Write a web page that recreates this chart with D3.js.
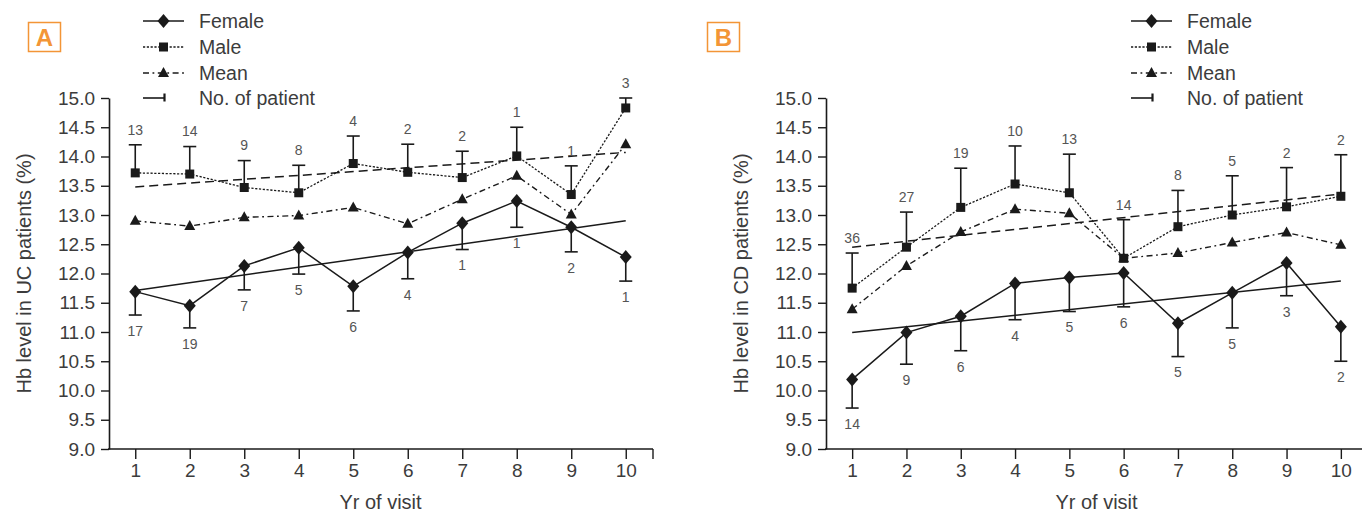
<!DOCTYPE html>
<html>
<head>
<meta charset="utf-8">
<script src="https://cdn.jsdelivr.net/npm/d3@7/dist/d3.min.js"></script>
<style>
  html, body { margin: 0; padding: 0; background: #fff; }
  svg { display: block; }
  text { font-family: "Liberation Sans", Arial, Helvetica, sans-serif; }
</style>
</head>
<body>
<svg id="chart" width="1362" height="513"></svg>
<script>
// ---------- DATA ----------
const years = [1, 2, 3, 4, 5, 6, 7, 8, 9, 10];
const yTicks = [9.0, 9.5, 10.0, 10.5, 11.0, 11.5, 12.0, 12.5, 13.0, 13.5, 14.0, 14.5, 15.0];
const legendLabels = ["Female", "Male", "Mean", "No. of patient"];

// Panel A: UC patients
const ucFemale     = [11.69, 11.45, 12.13, 12.44, 11.78, 12.36, 12.86, 13.24, 12.79, 12.28];
const ucFemaleLow  = [11.29, 11.07, 11.72, 11.99, 11.36, 11.91, 12.41, 12.79, 12.37, 11.87];
const ucFemaleN    = [17, 19, 7, 5, 6, 4, 1, 1, 2, 1];
const ucMale       = [13.72, 13.70, 13.47, 13.38, 13.88, 13.73, 13.64, 14.01, 13.35, 14.83];
const ucMaleHigh   = [14.20, 14.17, 13.93, 13.85, 14.35, 14.21, 14.09, 14.50, 13.84, 15.00];
const ucMaleN      = [13, 14, 9, 8, 4, 2, 2, 1, 1, 3];
const ucMean       = [12.90, 12.81, 12.96, 12.99, 13.13, 12.85, 13.27, 13.67, 13.01, 14.21];
const ucFemaleTrend = [11.71, 12.90];   // at year 1 and year 10
const ucMaleTrend   = [13.48, 14.07];

// Panel B: CD patients
const cdFemale     = [10.19, 10.99, 11.27, 11.83, 11.93, 12.01, 11.15, 11.67, 12.18, 11.09];
const cdFemaleLow  = [9.70, 10.45, 10.68, 11.21, 11.35, 11.43, 10.58, 11.07, 11.62, 10.50];
const cdFemaleN    = [14, 9, 6, 4, 5, 6, 5, 5, 3, 2];
const cdMale       = [11.75, 12.45, 13.13, 13.53, 13.38, 12.26, 12.80, 13.00, 13.14, 13.32];
const cdMaleHigh   = [12.35, 13.05, 13.80, 14.18, 14.04, 12.92, 13.42, 13.67, 13.81, 14.03];
const cdMaleN      = [36, 27, 19, 10, 13, 14, 8, 5, 2, 2];
const cdMean       = [11.39, 12.13, 12.71, 13.10, 13.03, 12.26, 12.35, 12.53, 12.70, 12.49];
const cdFemaleTrend = [10.99, 11.87];
const cdMaleTrend   = [12.45, 13.36];

// ---------- DRAWING ----------
const svg = d3.select("#chart");
const INK = "#1a1a1a";
const TXT = "#3c3c3c";
const ORANGE = "#f39536";

function diamondPath(cx, cy) {
  return `M${cx},${cy - 7}L${cx + 6},${cy}L${cx},${cy + 7}L${cx - 6},${cy}Z`;
}
function trianglePath(cx, cy) {
  return `M${cx},${cy - 6}L${cx + 5.5},${cy + 4}L${cx - 5.5},${cy + 4}Z`;
}

function drawPanel(cfg) {
  const g = svg.append("g");
  const x = d3.scaleLinear().domain([0.5, 10.5]).range([cfg.x0, cfg.x1]);
  const y = d3.scaleLinear().domain([9, 15]).range([449, 98]);

  // panel letter box
  g.append("rect")
    .attr("x", cfg.boxX).attr("y", 22.5).attr("width", 32).attr("height", 29)
    .attr("fill", "none").attr("stroke", ORANGE).attr("stroke-width", 1.5);
  g.append("text")
    .attr("x", cfg.boxX + 16).attr("y", 46)
    .attr("text-anchor", "middle").attr("fill", ORANGE).attr("font-weight", "bold")
    .attr("font-size", 24).text(cfg.letter);

  // y axis
  const yAxis = d3.axisLeft(y).tickValues(yTicks).tickFormat(d3.format(".1f"))
    .tickSize(8).tickSizeOuter(0).tickPadding(6);
  const ya = g.append("g").attr("transform", `translate(${cfg.x0 + 1},0)`).call(yAxis);
  ya.select(".domain").attr("stroke", INK).attr("stroke-width", 1.6);
  ya.selectAll(".tick line").attr("stroke", INK).attr("stroke-width", 1.4);
  ya.selectAll(".tick text").attr("fill", TXT).attr("font-size", 19)
    .attr("font-family", "'Liberation Sans', Arial, sans-serif");

  // x axis
  const xAxis = d3.axisBottom(x).tickValues(years).tickSize(10).tickSizeOuter(0).tickPadding(5);
  const xa = g.append("g").attr("transform", `translate(0,449)`).call(xAxis);
  xa.select(".domain").attr("stroke", INK).attr("stroke-width", 1.6)
    .attr("d", `M${cfg.x0},0H${cfg.x1}`);
  xa.selectAll(".tick line").attr("stroke", INK).attr("stroke-width", 1.4);
  xa.selectAll(".tick text").attr("fill", TXT).attr("font-size", 19)
    .attr("font-family", "'Liberation Sans', Arial, sans-serif");
  // right end tick
  xa.append("line").attr("x1", cfg.x1).attr("x2", cfg.x1).attr("y1", 0).attr("y2", 10)
    .attr("stroke", INK).attr("stroke-width", 1.4);

  // axis titles
  g.append("text")
    .attr("x", (x(1) + x(10)) / 2).attr("y", 509)
    .attr("text-anchor", "middle").attr("fill", TXT).attr("font-size", 20)
    .text("Yr of visit");
  g.append("text")
    .attr("transform", `translate(${cfg.titleX},${(y(9) + y(15)) / 2}) rotate(-90)`)
    .attr("text-anchor", "middle").attr("dy", "0.35em").attr("fill", TXT).attr("font-size", 20)
    .text(cfg.yTitle);

  // trend lines
  g.append("line")
    .attr("x1", x(1)).attr("y1", y(cfg.femaleTrend[0]))
    .attr("x2", x(10)).attr("y2", y(cfg.femaleTrend[1]))
    .attr("stroke", INK).attr("stroke-width", 1.5);
  g.append("line")
    .attr("x1", x(1)).attr("y1", y(cfg.maleTrend[0]))
    .attr("x2", x(10)).attr("y2", y(cfg.maleTrend[1]))
    .attr("stroke", INK).attr("stroke-width", 1.5).attr("stroke-dasharray", "9,5");

  const line = vals => d3.line().x((d, i) => x(years[i])).y(d => y(d))(vals);

  // series lines
  g.append("path").attr("d", line(cfg.female)).attr("fill", "none")
    .attr("stroke", INK).attr("stroke-width", 1.5);
  g.append("path").attr("d", line(cfg.male)).attr("fill", "none")
    .attr("stroke", INK).attr("stroke-width", 1.3).attr("stroke-dasharray", "2.2,1.6");
  g.append("path").attr("d", line(cfg.mean)).attr("fill", "none")
    .attr("stroke", INK).attr("stroke-width", 1.4).attr("stroke-dasharray", "6,3.5,1.8,3.5");

  // error bars
  const capW = 6.5;
  years.forEach((yr, i) => {
    const cx = x(yr);
    g.append("line").attr("x1", cx).attr("x2", cx)
      .attr("y1", y(cfg.female[i])).attr("y2", y(cfg.femaleLow[i]))
      .attr("stroke", INK).attr("stroke-width", 1.6);
    g.append("line").attr("x1", cx - capW).attr("x2", cx + capW)
      .attr("y1", y(cfg.femaleLow[i])).attr("y2", y(cfg.femaleLow[i]))
      .attr("stroke", INK).attr("stroke-width", 1.6);
    g.append("line").attr("x1", cx).attr("x2", cx)
      .attr("y1", y(cfg.male[i])).attr("y2", y(cfg.maleHigh[i]))
      .attr("stroke", INK).attr("stroke-width", 1.6);
    g.append("line").attr("x1", cx - capW).attr("x2", cx + capW)
      .attr("y1", y(cfg.maleHigh[i])).attr("y2", y(cfg.maleHigh[i]))
      .attr("stroke", INK).attr("stroke-width", 1.6);
  });

  // markers
  years.forEach((yr, i) => {
    const cx = x(yr);
    g.append("path").attr("d", diamondPath(cx, y(cfg.female[i]))).attr("fill", INK);
    g.append("rect").attr("x", cx - 4.5).attr("y", y(cfg.male[i]) - 4.5)
      .attr("width", 9).attr("height", 9).attr("fill", INK);
    g.append("path").attr("d", trianglePath(cx, y(cfg.mean[i]))).attr("fill", INK);
  });

  // patient counts
  years.forEach((yr, i) => {
    const cx = x(yr);
    g.append("text").attr("x", cx).attr("y", y(cfg.femaleLow[i]) + 16)
      .attr("dy", "0.35em").attr("text-anchor", "middle")
      .attr("fill", "#555").attr("font-size", 14).text(cfg.femaleN[i]);
    g.append("text").attr("x", cx).attr("y", y(cfg.maleHigh[i]) - 15)
      .attr("dy", "0.35em").attr("text-anchor", "middle")
      .attr("fill", "#555").attr("font-size", 14).text(cfg.maleN[i]);
  });

  // legend
  const lx0 = cfg.legendX, lx1 = cfg.legendX + 41, lm = cfg.legendX + 20.5;
  const rows = [21, 47, 73, 98];
  const lg = g.append("g");
  lg.append("line").attr("x1", lx0).attr("x2", lx1).attr("y1", rows[0]).attr("y2", rows[0])
    .attr("stroke", INK).attr("stroke-width", 1.5);
  lg.append("path").attr("d", diamondPath(lm, rows[0])).attr("fill", INK);
  lg.append("line").attr("x1", lx0).attr("x2", lx1).attr("y1", rows[1]).attr("y2", rows[1])
    .attr("stroke", INK).attr("stroke-width", 1.3).attr("stroke-dasharray", "2.2,1.6");
  lg.append("rect").attr("x", lm - 4.5).attr("y", rows[1] - 4.5).attr("width", 9).attr("height", 9).attr("fill", INK);
  lg.append("line").attr("x1", lx0).attr("x2", lx1).attr("y1", rows[2]).attr("y2", rows[2])
    .attr("stroke", INK).attr("stroke-width", 1.4).attr("stroke-dasharray", "6,3.5,1.8,3.5");
  lg.append("path").attr("d", trianglePath(lm, rows[2])).attr("fill", INK);
  lg.append("line").attr("x1", lx0).attr("x2", lm + 1).attr("y1", rows[3]).attr("y2", rows[3])
    .attr("stroke", INK).attr("stroke-width", 1.6);
  lg.append("line").attr("x1", lm + 1).attr("x2", lm + 1).attr("y1", rows[3] - 4.5).attr("y2", rows[3] + 3.5)
    .attr("stroke", INK).attr("stroke-width", 2.2);
  legendLabels.forEach((lab, i) => {
    lg.append("text").attr("x", lx0 + 56).attr("y", rows[i]).attr("dy", "0.35em")
      .attr("fill", TXT).attr("font-size", 19.5).text(lab);
  });
}

drawPanel({
  letter: "A", boxX: 28.5, x0: 108, x1: 653, titleX: 24, legendX: 143,
  yTitle: "Hb level in UC patients (%)",
  female: ucFemale, femaleLow: ucFemaleLow, femaleN: ucFemaleN,
  male: ucMale, maleHigh: ucMaleHigh, maleN: ucMaleN, mean: ucMean,
  femaleTrend: ucFemaleTrend, maleTrend: ucMaleTrend
});
drawPanel({
  letter: "B", boxX: 707.5, x0: 825, x1: 1368, titleX: 741, legendX: 1131,
  yTitle: "Hb level in CD patients (%)",
  female: cdFemale, femaleLow: cdFemaleLow, femaleN: cdFemaleN,
  male: cdMale, maleHigh: cdMaleHigh, maleN: cdMaleN, mean: cdMean,
  femaleTrend: cdFemaleTrend, maleTrend: cdMaleTrend
});
</script>
</body>
</html>
